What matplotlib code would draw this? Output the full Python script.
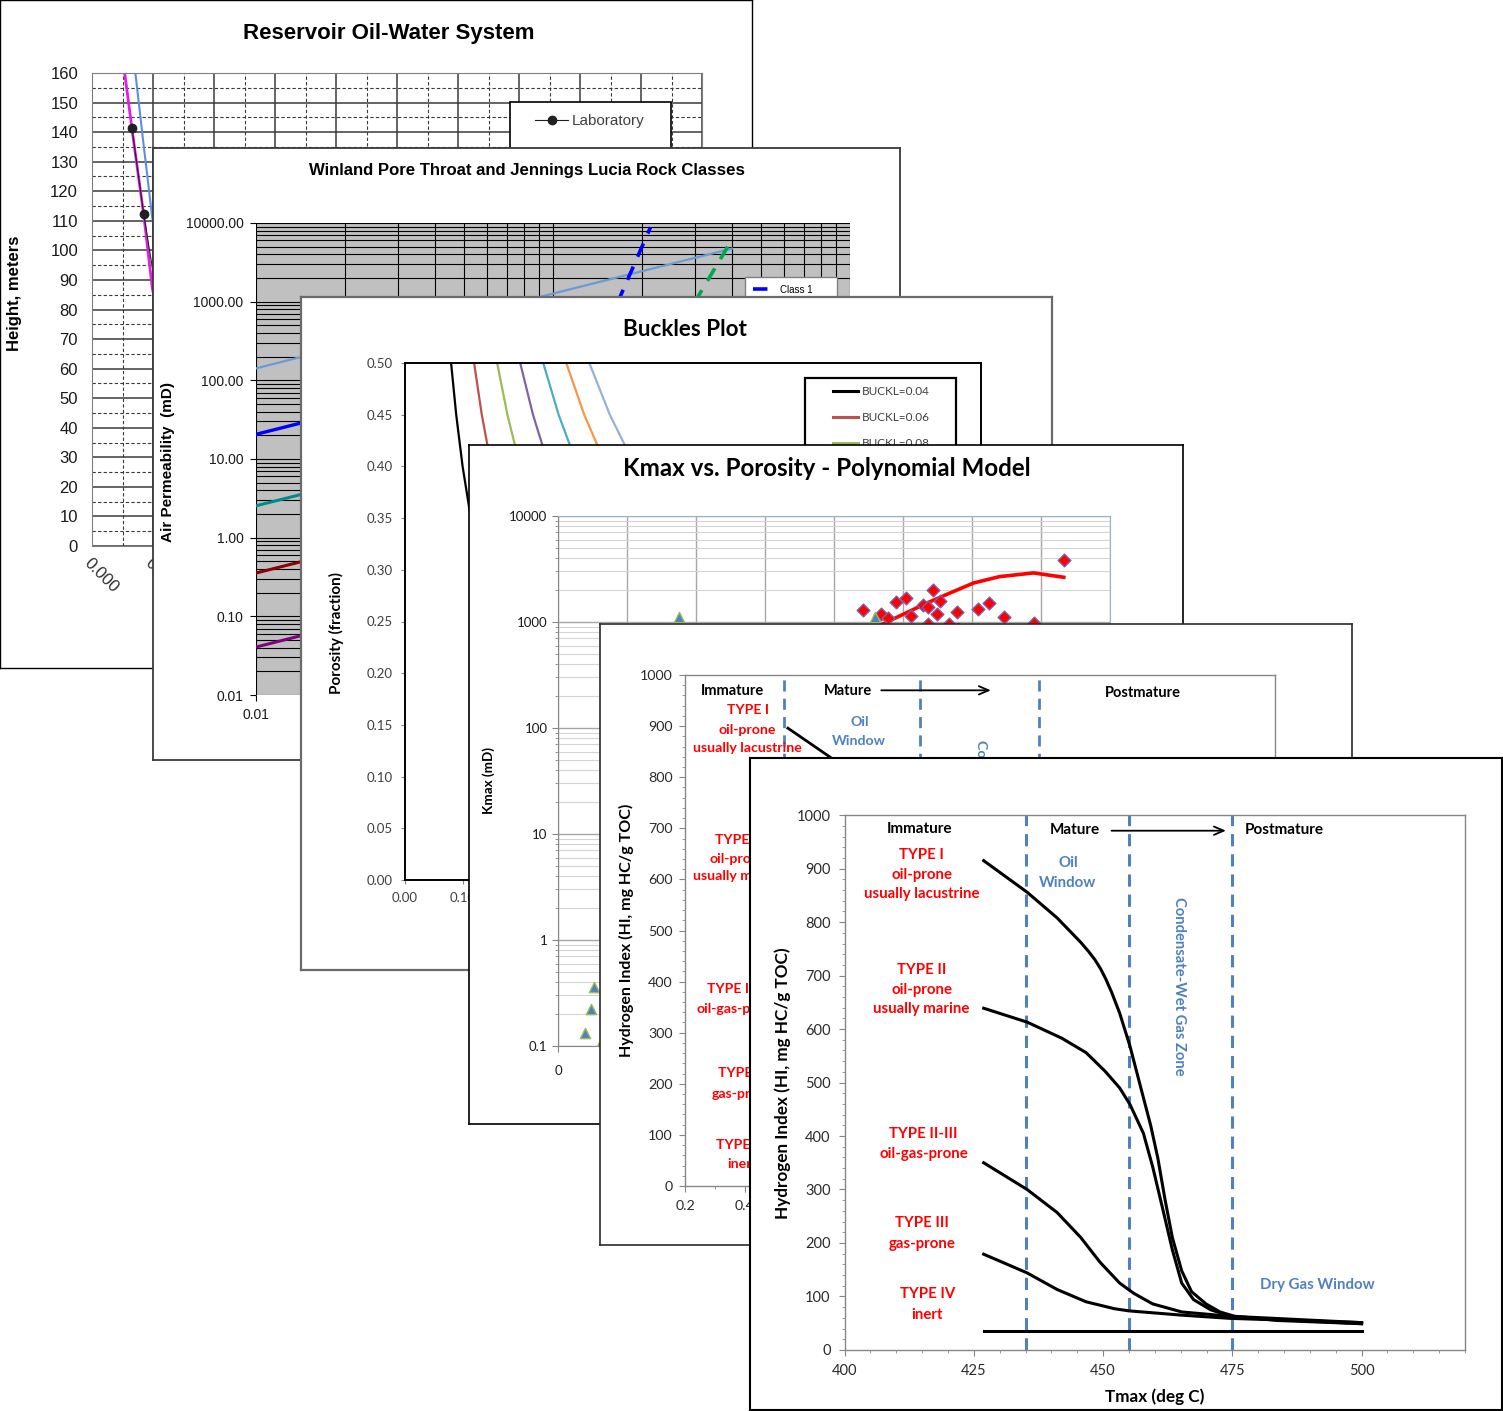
import numpy as np
import matplotlib
matplotlib.use('Agg')
import matplotlib.pyplot as plt
from matplotlib.lines import Line2D
from matplotlib.legend_handler import HandlerLine2D
from matplotlib.ticker import FixedLocator, MultipleLocator, NullFormatter, FixedFormatter, FormatStrFormatter, LogLocator

W, H = 1503, 1411
CAL = ['Lato', 'DejaVu Sans']
ARI = ['Liberation Sans', 'DejaVu Sans']

# ---------------- data ----------------
# Panel 1: Reservoir Oil-Water System (Sw fraction vs height, m)
res_lab_sw = [0.0656, 0.0848, 0.110, 0.150, 0.220, 0.350]
res_lab_h = [141.3, 112.2, 80, 52, 28, 10]
res_calc_sw = [0.0536, 0.0656, 0.0848, 0.099, 0.130, 0.180, 0.260, 0.400, 0.600]
res_calc_h = [160, 141, 112, 87, 58, 35, 18, 7, 2]
res_j_sw = [0.0711, 0.085, 0.099, 0.120, 0.160, 0.220, 0.320, 0.500]
res_j_h = [160, 135, 110.7, 85, 60, 38, 20, 8]

# Panel 2: Winland / Lucia (porosity fraction vs air permeability, mD)
win_phi = [0.01, 0.40]
win_r35_a = [142, 4730]
win_r35_b = [20.6, 686]
win_r35_c = [2.54, 84.6]
win_r35_d = [0.355, 11.8]
win_r35_e = [0.0407, 1.36]
lucia1_phi = [0.13, 0.168, 0.213]
lucia1_k = [126, 1140, 8850]
lucia2_phi = [0.20, 0.307, 0.40]
lucia2_k = [77, 1140, 6100]

# Panel 3: Buckles plot (Sw vs porosity)
buckl_labels = ['BUCKL=0.04', 'BUCKL=0.06', 'BUCKL=0.08', 'BUCKL=0.10',
                'BUCKL=0.12', 'BUCKL=0.14', 'BUCKL=0.16']
b04_sw = [0.080, 0.0889, 0.100, 0.1143, 0.1333, 0.160, 0.200, 0.2667, 0.400, 0.500, 0.6667, 0.800, 1.000]
b04_phi = [0.50, 0.45, 0.40, 0.35, 0.30, 0.25, 0.20, 0.15, 0.10, 0.08, 0.06, 0.05, 0.04]
b06_sw = [0.120, 0.1333, 0.150, 0.1714, 0.200, 0.240, 0.300, 0.400, 0.500, 0.600, 0.750, 1.000]
b06_phi = [0.50, 0.45, 0.40, 0.35, 0.30, 0.25, 0.20, 0.15, 0.12, 0.10, 0.08, 0.06]
b08_sw = [0.160, 0.1778, 0.200, 0.2286, 0.2667, 0.320, 0.400, 0.500, 0.6667, 0.800, 1.000]
b08_phi = [0.50, 0.45, 0.40, 0.35, 0.30, 0.25, 0.20, 0.16, 0.12, 0.10, 0.08]
b10_sw = [0.200, 0.2222, 0.250, 0.2857, 0.3333, 0.400, 0.500, 0.6667, 0.800, 1.000]
b10_phi = [0.50, 0.45, 0.40, 0.35, 0.30, 0.25, 0.20, 0.15, 0.125, 0.10]
b12_sw = [0.240, 0.2667, 0.300, 0.3429, 0.400, 0.480, 0.600, 0.800, 1.000]
b12_phi = [0.50, 0.45, 0.40, 0.35, 0.30, 0.25, 0.20, 0.15, 0.12]
b14_sw = [0.280, 0.3111, 0.350, 0.400, 0.4667, 0.560, 0.700, 0.800, 1.000]
b14_phi = [0.50, 0.45, 0.40, 0.35, 0.30, 0.25, 0.20, 0.175, 0.14]
b16_sw = [0.320, 0.3556, 0.400, 0.4571, 0.5333, 0.640, 0.800, 1.000]
b16_phi = [0.50, 0.45, 0.40, 0.35, 0.30, 0.25, 0.20, 0.16]

# Panel 4: Kmax vs porosity
kmax_phi_core = [0.2207, 0.2341, 0.2391, 0.2449, 0.2519, 0.2559, 0.2643, 0.2683, 0.2717,
                 0.2743, 0.2770, 0.2894, 0.3045, 0.3122, 0.3229, 0.3447, 0.3665,
                 0.2680, 0.2830, 0.2500, 0.2900, 0.3100]
kmax_k_core = [1289, 1194, 1086, 1560, 1670, 1140, 1445, 1380, 2020,
               1194, 1592, 1253, 1340, 1517, 1107, 986, 3873,
               960, 965, 700, 850, 600]
kmax_phi_other = [0.0874, 0.2294, 0.0263, 0.0237, 0.0193, 0.0295, 0.3000]
kmax_k_other = [1107, 1107, 0.358, 0.222, 0.133, 0.0986, 900]
kmax_fit_phi = [0.215, 0.234, 0.250, 0.2677, 0.285, 0.3011, 0.320, 0.3447, 0.3665]
kmax_fit_k = [650, 938, 1180, 1517, 1900, 2333, 2680, 2904, 2642]
kmax_xticks = [0, 0.05, 0.1, 0.15, 0.2, 0.25, 0.3, 0.35, 0.4]
kmax_xlabels = ['0', '0.05', '0.1', '0.15', '0.2', '0.25', '0.3', '0.35', '0.4']

# Panel 5: HI vs Ro (back copy)
ro_bounds = [0.53, 0.985, 1.38]
ro_I = [0.543, 0.692, 0.85, 1.00, 1.15, 1.30, 1.50, 1.80, 2.10]
hi_ro_I = [896, 836, 760, 650, 420, 180, 80, 58, 50]
ro_II = [0.543, 0.80, 1.00, 1.20, 1.40, 1.80, 2.10]
hi_ro_II = [640, 580, 480, 250, 90, 58, 50]
ro_IIIII = [0.543, 0.80, 1.00, 1.20, 1.50, 2.10]
hi_ro_IIIII = [350, 230, 130, 80, 62, 51]
ro_III = [0.543, 0.80, 1.00, 1.30, 2.10]
hi_ro_III = [180, 100, 76, 65, 51]
ro_IV = [0.543, 2.10]
hi_ro_IV = [36, 36]

# Panel 6: HI vs Tmax (front)
tmax_bounds = [435, 455, 475]
tmax_I = [426.9, 435.3, 441.1, 445.7, 447.2, 448.4, 449.5, 450.5, 451.6, 453.2, 455.2, 457.3,
          459.2, 460.6, 462.0, 463.4, 465.2, 467.1, 469.9, 472.6, 475.4, 483.8, 500]
hi_I = [915, 856, 808, 762, 745, 730, 713, 694, 670, 630, 568, 490,
        420, 358, 280, 210, 148, 109, 86, 71, 63, 55, 49]
tmax_II = [426.9, 435.3, 442.0, 446.7, 450.4, 453.2, 455.2, 457.8, 459.6, 461.5, 463.4,
           465.2, 467.5, 470.8, 475.4, 500]
hi_II = [639, 613, 583, 556, 521, 490, 459, 405, 342, 265, 187,
         125, 94, 75, 61, 49]
tmax_IIIII = [426.9, 435.3, 441.1, 445.7, 449.4, 453.2, 455.9, 459.6, 465.2, 474.5, 500]
hi_IIIII = [350, 300, 257, 210, 164, 125, 106, 86, 71, 63, 51]
tmax_III = [426.9, 435.3, 441.1, 446.7, 452.2, 455.0, 465.2, 474.5, 500]
hi_III = [179, 144, 113, 90, 77, 73, 65, 59, 51]
tmax_IV = [426.9, 500]
hi_IV = [36, 36]

type_text = [['TYPE I', 'oil-prone', 'usually lacustrine'],
             ['TYPE II', 'oil-prone', 'usually marine'],
             ['TYPE II-III', 'oil-gas-prone'],
             ['TYPE III', 'gas-prone'],
             ['TYPE IV', 'inert']]

# ---------------- helpers ----------------
fig = plt.figure(figsize=(W / 100, H / 100), dpi=100)


def frect(l, t, r, b):
    return [l / W, 1 - b / H, (r - l) / W, (b - t) / H]


def panel(l, t, r, b, z, ec='black', lw=1.0):
    ax = fig.add_axes(frect(l, t, r, b), zorder=z)
    ax.set_xticks([])
    ax.set_yticks([])
    ax.set_facecolor('white')
    for s in ax.spines.values():
        s.set_edgecolor(ec)
        s.set_linewidth(lw)
    return ax


def place_labels(ax, box, ylab=None, ypos=None, xlab=None, xpos=None, fam=CAL, size=10,
                 color='black'):
    l, t, r, b = box
    if ylab is not None:
        ax.set_ylabel(ylab, family=fam, fontsize=size, fontweight='bold', color=color,
                      ha='center', va='center', rotation_mode='default')
        ax.yaxis.set_label_coords((ypos[0] - l) / (r - l), (b - ypos[1]) / (b - t))
    if xlab is not None:
        ax.set_xlabel(xlab, family=fam, fontsize=size, fontweight='bold', color=color,
                      ha='center', va='center')
        ax.xaxis.set_label_coords((xpos[0] - l) / (r - l), (b - xpos[1]) / (b - t))


def place_title(ax, box, s, pos, fam, size):
    l, t, r, b = box
    ax.set_title(s, family=fam, fontsize=size, fontweight='bold',
                 x=(pos[0] - l) / (r - l), y=(b - pos[1]) / (b - t), pad=0, va='center')


def legend_box(box, left, right, top, height=0.35):
    l, t, r, b = box
    x0 = (left - l) / (r - l)
    w = (right - left) / (r - l)
    y1 = (b - top) / (b - t)
    return (x0, y1 - height, w, height)


# ================= Panel 1 =================
panel(0, 0, 752, 668, 1, ec='black', lw=1.0)
B1 = (92, 73, 702, 546)
a1 = fig.add_axes(frect(*B1), zorder=1.5)
a1.set_xlim(0, 1)
a1.set_ylim(0, 160)
a1.xaxis.set_major_locator(MultipleLocator(0.1))
a1.xaxis.set_minor_locator(MultipleLocator(0.05))
a1.yaxis.set_major_locator(MultipleLocator(10))
a1.yaxis.set_minor_locator(MultipleLocator(5))
a1.xaxis.set_major_formatter(FormatStrFormatter('%.3f'))
a1.grid(which='major', color='#3a3a3a', lw=1.1, ls='-')
a1.grid(which='minor', color='#3a3a3a', lw=0.8, ls=(0, (3, 2)))
a1.set_axisbelow(True)
for s in a1.spines.values():
    s.set_edgecolor('#7f7f7f')
a1.tick_params(which='both', length=0)
a1.tick_params(axis='y', pad=10, labelsize=12, labelcolor='#1a1a1a')
a1.tick_params(axis='x', pad=7, labelsize=12, labelcolor='#2b2b2b')
for lab in a1.get_yticklabels() + a1.get_xticklabels():
    lab.set_family(ARI)
for lab in a1.get_xticklabels():
    lab.set_rotation(-45)
    lab.set_ha('left')
    lab.set_va('top')
    lab.set_rotation_mode('anchor')
a1.plot(res_calc_sw, res_calc_h, color='#e020e0', lw=2.0, label='Calculated')
a1.plot(res_j_sw, res_j_h, color='#5b8fe0', lw=1.5, label='J-Function')
a1.plot(res_lab_sw, res_lab_h, color='#202020', lw=0.8, marker='o', ms=6, label='Laboratory')
h, lb = a1.get_legend_handles_labels()
leg1 = a1.legend([h[2], h[0], h[1]], [lb[2], lb[0], lb[1]], loc='upper left',
                 bbox_to_anchor=legend_box(B1, 510, 671, 102), mode='expand', borderaxespad=0,
                 frameon=True, fancybox=False, framealpha=1, edgecolor='black', borderpad=0.8,
                 handlelength=3.0, handletextpad=0.26, labelspacing=1.4,
                 handler_map={Line2D: HandlerLine2D(xpad=0.84)},
                 prop={'family': ARI, 'size': 11})
leg1.get_frame().set_linewidth(1.2)
for tx in leg1.get_texts():
    tx.set_color('#404040')
place_labels(a1, B1, ylab='Height, meters', ypos=(15, 293), fam=ARI, size=12)
place_title(a1, B1, 'Reservoir Oil-Water System', (389, 33), ARI, 16)

# ================= Panel 2 =================
panel(153, 148, 900, 760, 2, ec='#3a3a3a', lw=1.3)
B2 = (256, 223, 850, 695)
a2 = fig.add_axes(frect(*B2), zorder=2.5)
a2.set_xscale('log')
a2.set_yscale('log')
a2.set_xlim(0.01, 1)
a2.set_ylim(0.01, 10000)
a2.set_facecolor('#c0c0c0')
a2.grid(which='both', color='black', lw=0.8)
a2.set_axisbelow(True)
a2.yaxis.set_major_locator(FixedLocator([0.01, 0.1, 1, 10, 100, 1000, 10000]))
a2.yaxis.set_major_formatter(FixedFormatter(['0.01', '0.10', '1.00', '10.00', '100.00', '1000.00', '10000.00']))
a2.xaxis.set_major_locator(FixedLocator([0.01, 0.1, 1]))
a2.xaxis.set_major_formatter(FixedFormatter(['0.01', '0.10', '1.00']))
a2.yaxis.set_minor_locator(LogLocator(subs=np.arange(2, 10), numticks=20))
a2.xaxis.set_minor_locator(LogLocator(subs=np.arange(2, 10), numticks=20))
a2.xaxis.set_minor_formatter(NullFormatter())
a2.yaxis.set_minor_formatter(NullFormatter())
for s in a2.spines.values():
    s.set_visible(False)
a2.tick_params(which='major', length=4, color='black', pad=5, labelsize=10, labelcolor='#1a1a1a')
a2.tick_params(which='minor', length=0)
for lab in a2.get_yticklabels() + a2.get_xticklabels():
    lab.set_family(ARI)
a2.plot(win_phi, win_r35_a, color='#6a9bd8', lw=1.6)
a2.plot(win_phi, win_r35_b, color='#0000ff', lw=2.4)
a2.plot(win_phi, win_r35_c, color='#008b8b', lw=2.2)
a2.plot(win_phi, win_r35_d, color='#8b0000', lw=2.2)
a2.plot(win_phi, win_r35_e, color='#800080', lw=2.2)
a2.plot(lucia1_phi, lucia1_k, color='#0000ff', lw=2.6, ls=(0, (4, 3)), label='Class 1')
a2.plot(lucia2_phi, lucia2_k, color='#00a850', lw=2.6, ls=(0, (4, 3)), label='Class 2')
a2.legend(loc='upper left', bbox_to_anchor=legend_box(B2, 745, 837, 277), mode='expand',
          borderaxespad=0, frameon=True, fancybox=False, framealpha=1, edgecolor='#808080',
          borderpad=0.8, handlelength=2.6, handletextpad=0.2, prop={'family': ARI, 'size': 7})
place_labels(a2, B2, ylab='Air Permeability  (mD)', ypos=(168, 462), fam=ARI, size=11)
place_title(a2, B2, 'Winland Pore Throat and Jennings Lucia Rock Classes', (527, 171), ARI, 12.1)

# ================= Panel 3 =================
panel(301, 297, 1052, 970, 3, ec='#6a6a6a', lw=1.6)
B3 = (405, 363, 981, 880)
a3 = fig.add_axes(frect(*B3), zorder=3.5)
a3.set_xlim(0, 1)
a3.set_ylim(0, 0.5)
a3.xaxis.set_major_locator(MultipleLocator(0.1))
a3.yaxis.set_major_locator(MultipleLocator(0.05))
a3.xaxis.set_major_formatter(FormatStrFormatter('%.2f'))
a3.yaxis.set_major_formatter(FormatStrFormatter('%.2f'))
for s in a3.spines.values():
    s.set_edgecolor('black')
    s.set_linewidth(1.4)
a3.tick_params(length=3, color='#808080', pad=6, labelsize=9.5, labelcolor='#404040')
for lab in a3.get_yticklabels() + a3.get_xticklabels():
    lab.set_family(CAL)
bk_sw = [b04_sw, b06_sw, b08_sw, b10_sw, b12_sw, b14_sw, b16_sw]
bk_phi = [b04_phi, b06_phi, b08_phi, b10_phi, b12_phi, b14_phi, b16_phi]
bk_col = ['black', '#c0504d', '#9bbb59', '#8064a2', '#4bacc6', '#f79646', '#95b3d7']
for sw, ph, c, lab in zip(bk_sw, bk_phi, bk_col, buckl_labels):
    a3.plot(sw, ph, color=c, lw=1.6, label=lab)
leg3 = a3.legend(loc='upper left', bbox_to_anchor=legend_box(B3, 805, 956, 378, 0.5),
                 mode='expand', borderaxespad=0, frameon=True, fancybox=False, framealpha=1,
                 edgecolor='black', borderpad=0.7, handlelength=3.79, handletextpad=0.34,
                 labelspacing=1.25, handler_map={Line2D: HandlerLine2D(xpad=1.67)},
                 prop={'family': CAL, 'size': 8.5})
leg3.get_frame().set_linewidth(1.6)
for line in leg3.get_lines():
    line.set_linewidth(2.2)
for tx in leg3.get_texts():
    tx.set_color('#404040')
place_labels(a3, B3, ylab='Porosity (fraction)', ypos=(336, 633), fam=CAL, size=11)
place_title(a3, B3, 'Buckles Plot', (685, 330), CAL, 16.2)

# ================= Panel 4 =================
panel(469, 445, 1183, 1124, 4, ec='black', lw=1.2)
B4 = (558, 516, 1110, 1046)
a4 = fig.add_axes(frect(*B4), zorder=4.5)
a4.set_yscale('log')
a4.set_xlim(0, 0.4)
a4.set_ylim(0.1, 10000)
a4.xaxis.set_major_locator(FixedLocator(kmax_xticks))
a4.xaxis.set_major_formatter(FixedFormatter(kmax_xlabels))
a4.yaxis.set_major_locator(FixedLocator([0.1, 1, 10, 100, 1000, 10000]))
a4.yaxis.set_major_formatter(FixedFormatter(['0.1', '1', '10', '100', '1000', '10000']))
a4.yaxis.set_minor_locator(LogLocator(subs=np.arange(2, 10), numticks=20))
a4.yaxis.set_minor_formatter(NullFormatter())
a4.grid(which='major', axis='x', color='#a6a6a6', lw=1.0)
a4.grid(which='major', axis='y', color='#a6a6a6', lw=1.0)
a4.grid(which='minor', axis='y', color='#d4d4d4', lw=0.8)
a4.set_axisbelow(True)
a4.spines['left'].set_edgecolor('#868686')
a4.spines['bottom'].set_edgecolor('#868686')
a4.spines['top'].set_edgecolor('#95b3d7')
a4.spines['right'].set_edgecolor('#95b3d7')
a4.tick_params(which='major', length=4, color='#868686', labelsize=9.5, labelcolor='#1a1a1a')
a4.tick_params(axis='x', pad=10)
a4.tick_params(which='minor', length=2, color='#868686')
for lab in a4.get_yticklabels() + a4.get_xticklabels():
    lab.set_family(CAL)
a4.plot(kmax_fit_phi, kmax_fit_k, color='#ff0000', lw=2.6, zorder=3)
a4.scatter(kmax_phi_core, kmax_k_core, marker='D', s=42, facecolor='#ff0000',
           edgecolor='#7f5fa8', lw=1.0, zorder=4)
a4.scatter(kmax_phi_other, kmax_k_other, marker='^', s=55, facecolor='#4f81bd',
           edgecolor='#9bbb59', lw=1.0, zorder=4)
place_labels(a4, B4, ylab='Kmax (mD)', ypos=(489, 780), fam=CAL, size=9.7)
place_title(a4, B4, 'Kmax vs. Porosity - Polynomial Model', (827, 468), CAL, 17.4)


# ================= HI helpers =================
def hi_axes(ax, tsize):
    ax.set_ylim(0, 1000)
    ax.yaxis.set_major_locator(MultipleLocator(100))
    ax.yaxis.set_minor_locator(MultipleLocator(20))
    for s in ax.spines.values():
        s.set_edgecolor('#868686')
        s.set_linewidth(1.0)
    ax.tick_params(which='major', direction='out', length=4, color='#868686',
                   labelsize=tsize, labelcolor='#2b2b2b')
    ax.tick_params(which='minor', direction='out', length=2.5, color='#868686')
    for lab in ax.get_yticklabels() + ax.get_xticklabels():
        lab.set_family(CAL)


def txt(ax, x, y, s, color, size=10, **kw):
    ax.text(x, y, s, color=color, fontsize=size, fontweight='bold', family=CAL,
            ha='center', va='center', **kw)


# ================= Panel 5 =================
panel(600, 624, 1352, 1245, 5, ec='#2a2a2a', lw=1.2)
B5 = (685, 675, 1275, 1186)
a5 = fig.add_axes(frect(*B5), zorder=5.5)
a5.set_xlim(0.2, 2.167)
a5.xaxis.set_major_locator(MultipleLocator(0.2))
a5.xaxis.set_minor_locator(MultipleLocator(0.1))
a5.xaxis.set_major_formatter(FormatStrFormatter('%.1f'))
hi_axes(a5, 10.3)
a5.tick_params(axis='y', pad=5)
a5.tick_params(axis='x', pad=6)
for xb in ro_bounds:
    a5.axvline(xb, color='#4f81bd', lw=2.0, ls=(0, (4, 2.6)))
for xs, ys in [(ro_I, hi_ro_I), (ro_II, hi_ro_II), (ro_IIIII, hi_ro_IIIII), (ro_III, hi_ro_III), (ro_IV, hi_ro_IV)]:
    a5.plot(xs, ys, color='black', lw=2.0)
txt(a5, 0.360, 969, 'Immature', 'black', 10.5)
txt(a5, 0.743, 969, 'Mature', 'black', 10.5)
a5.annotate('', xy=(1.229, 970), xytext=(0.845, 970),
            arrowprops=dict(arrowstyle='->,head_length=0.7,head_width=0.3', color='black', lw=1.3))
txt(a5, 1.727, 965, 'Postmature', 'black', 10.5)
p5_pos = [(0.409, [931, 893, 857]), (0.378, [677, 640, 606]), (0.378, [386, 347]),
          (0.394, [221, 180]), (0.390, [81, 43])]
for (xc, ys), lines in zip(p5_pos, type_text):
    for yy, s in zip(ys, lines):
        txt(a5, xc, yy, s, '#ff0000', 10.2)
txt(a5, 0.781, 909, 'Oil', '#4f81bd', 10.2)
txt(a5, 0.781, 871, 'Window', '#4f81bd', 10.2)
a5.text(1.188, 872, 'Condensate-Wet Gas Zone', color='#4f81bd', fontsize=10.2, fontweight='bold',
        family=CAL, rotation=-90, ha='center', va='top')
place_labels(a5, B5, ylab='Hydrogen Index (HI, mg HC/g TOC)', ypos=(626, 930), fam=CAL, size=11.5)

# ================= Panel 6 =================
panel(750, 758, 1502, 1410, 6, ec='black', lw=1.5)
B6 = (844.6, 815.2, 1465, 1349.9)
a6 = fig.add_axes(frect(*B6), zorder=6.5)
a6.set_xlim(400, 520)
a6.xaxis.set_major_locator(FixedLocator([400, 425, 450, 475, 500]))
a6.xaxis.set_minor_locator(MultipleLocator(5))
hi_axes(a6, 10.5)
a6.tick_params(axis='y', pad=6)
a6.tick_params(axis='x', pad=6)
for xb in tmax_bounds:
    a6.axvline(xb, color='#4f81bd', lw=2.2, ls=(0, (4, 2.6)))
for xs, ys in [(tmax_I, hi_I), (tmax_II, hi_II), (tmax_IIIII, hi_IIIII), (tmax_III, hi_III), (tmax_IV, hi_IV)]:
    a6.plot(xs, ys, color='black', lw=2.2)
txt(a6, 414.4, 975, 'Immature', 'black', 11)
txt(a6, 444.6, 973, 'Mature', 'black', 11)
a6.annotate('', xy=(474.3, 971), xytext=(451.1, 971),
            arrowprops=dict(arrowstyle='->,head_length=0.7,head_width=0.3', color='black', lw=1.3))
txt(a6, 485.0, 972, 'Postmature', 'black', 11)
p6_pos = [(414.9, [926, 889, 853]), (414.9, [710, 673, 637]), (415.3, [403, 366]),
          (414.9, [237, 198]), (416.0, [104, 66])]
for (xc, ys), lines in zip(p6_pos, type_text):
    for yy, s in zip(ys, lines):
        txt(a6, xc, yy, s, '#ff0000', 10.8)
txt(a6, 443.2, 910, 'Oil', '#4f81bd', 10.8)
txt(a6, 443.2, 874, 'Window', '#4f81bd', 10.8)
a6.text(464.6, 680, 'Condensate-Wet Gas Zone', color='#4f81bd', fontsize=10.6, fontweight='bold',
        family=CAL, rotation=-90, ha='center', va='center')
txt(a6, 491.4, 121, 'Dry Gas Window', '#4f81bd', 10.8)
place_labels(a6, B6, ylab='Hydrogen Index (HI, mg HC/g TOC)', ypos=(783, 1083),
             xlab='Tmax (deg C)', xpos=(1155, 1397), fam=CAL, size=12.3)

fig.savefig('out.png', dpi=100)
